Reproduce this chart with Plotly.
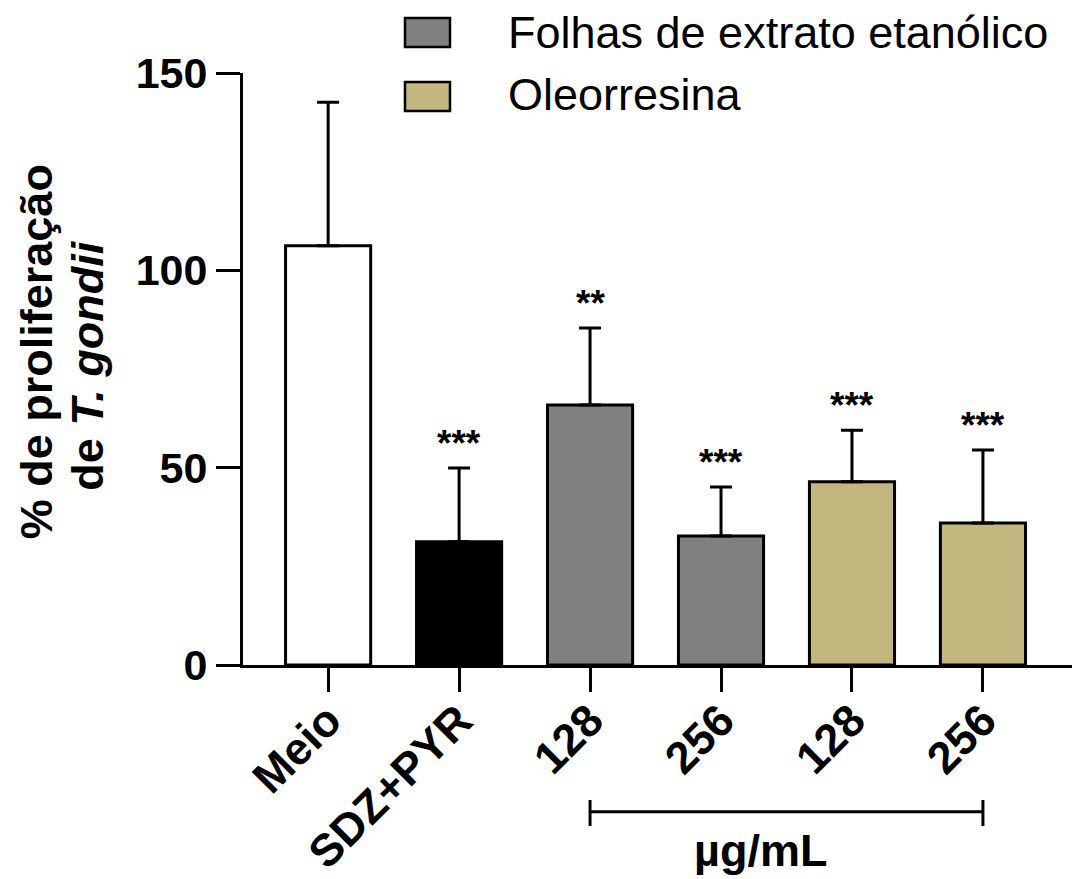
import plotly.graph_objects as go

# ---- data ----
categories = ["Meio", "SDZ+PYR", "128", "256", "128", "256"]
means = [106.2, 31.2, 65.9, 32.7, 46.4, 36.0]
sd_upper = [36.4, 18.7, 19.5, 12.4, 13.1, 18.5]
significance = ["", "***", "**", "***", "***", "***"]
bar_colors = ["#FFFFFF", "#000000", "#808080", "#808080", "#C1B77F", "#C1B77F"]
legend_labels = ["Folhas de extrato etanólico", "Oleorresina"]
legend_colors = ["#808080", "#C1B77F"]
y_ticks = [0, 50, 100, 150]
unit_label = "µg/mL"

FONT = "Arial, Liberation Sans, sans-serif"
positions = list(range(len(categories)))

fig = go.Figure()
fig.add_trace(go.Bar(
    x=positions, y=means, width=0.65,
    marker=dict(color=bar_colors, line=dict(color="black", width=3)),
    error_y=dict(type="data", symmetric=False, array=sd_upper,
                 arrayminus=[0] * len(means), color="black",
                 thickness=3, width=11),
    showlegend=False,
))

# significance stars
for i, (m, s, sig) in enumerate(zip(means, sd_upper, significance)):
    if sig:
        fig.add_annotation(x=positions[i], y=m + s, text=f"<b>{sig}</b>",
                           showarrow=False, yanchor="bottom", yshift=2,
                           font=dict(family=FONT, size=37, color="black"))

# manual legend
sq_y = [(1.093, 1.044), (0.985, 0.936)]
txt_y = [1.069, 0.964]
for (y1, y0), ty, lab, col in zip(sq_y, txt_y, legend_labels, legend_colors):
    fig.add_shape(type="rect", xref="paper", yref="paper",
                  x0=0.1954, x1=0.2497, y0=y0, y1=y1,
                  fillcolor=col, line=dict(color="black", width=2.5))
    fig.add_annotation(xref="paper", yref="paper", x=0.318, y=ty,
                       text=lab, showarrow=False, xanchor="left",
                       yanchor="middle", borderpad=0,
                       font=dict(family=FONT, size=45, color="black"))

# bracket for concentrations
fig.add_shape(type="line", xref="x", yref="paper", x0=positions[2], x1=positions[5],
              y0=-0.248, y1=-0.248, line=dict(color="black", width=3))
for p in (positions[2], positions[5]):
    fig.add_shape(type="line", xref="x", yref="paper", x0=p, x1=p,
                  y0=-0.228, y1=-0.272, line=dict(color="black", width=3))
fig.add_annotation(xref="x", yref="paper", x=3.3, y=-0.314, text=f"<b>{unit_label}</b>",
                   showarrow=False, xanchor="center", yanchor="middle", borderpad=0,
                   font=dict(family=FONT, size=45, color="black"))

# y-axis title (two lines)
fig.add_annotation(xref="paper", yref="paper", x=-0.2497, y=0.530,
                   text="<b>% de proliferação</b>", textangle=-90, showarrow=False,
                   xanchor="center", yanchor="middle",
                   font=dict(family=FONT, size=45, color="black"))
fig.add_annotation(xref="paper", yref="paper", x=-0.187, y=0.507,
                   text="<b>de <i>T. gondii</i></b>", textangle=-90, showarrow=False,
                   xanchor="center", yanchor="middle",
                   font=dict(family=FONT, size=45, color="black"))

fig.update_layout(
    width=1089, height=879,
    margin=dict(l=235, r=25, t=65, b=222, autoexpand=False),
    plot_bgcolor="white", paper_bgcolor="white",
    font=dict(family=FONT, color="black"),
    xaxis=dict(range=[-0.65, 5.68], tickmode="array", tickvals=positions,
               ticktext=[f"<b>{c}</b>" for c in categories], tickangle=-45,
               ticks="outside", ticklen=24, tickwidth=3, tickcolor="black",
               showline=True, linewidth=3, linecolor="black",
               showgrid=False, zeroline=False, automargin=False,
               ticklabelstandoff=-16,
               tickfont=dict(family=FONT, size=45, color="black")),
    yaxis=dict(range=[0, 150], tickmode="array", tickvals=y_ticks,
               ticktext=[f"<b>{t}</b>" for t in y_ticks],
               ticks="outside", ticklen=24, tickwidth=3, tickcolor="black",
               showline=True, linewidth=3, linecolor="black",
               showgrid=False, zeroline=False, automargin=False,
               tickfont=dict(family=FONT, size=43, color="black")),
)

fig.write_html("out.html")
